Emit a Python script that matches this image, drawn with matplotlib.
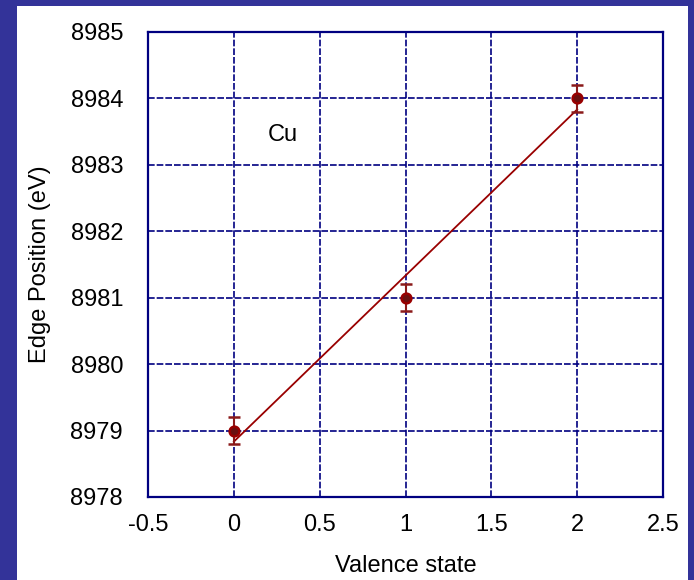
import numpy as np
import matplotlib.pyplot as plt
from matplotlib.patches import Rectangle

plt.rcParams["font.family"] = ["Liberation Sans", "DejaVu Sans"]

# data
valence = [0, 1, 2]
edge = [8979.0, 8981.0, 8984.0]
edge_err = [0.2, 0.2, 0.2]

xticks = [-0.5, 0, 0.5, 1, 1.5, 2, 2.5]
xticklabels = ["-0.5", "0", "0.5", "1", "1.5", "2", "2.5"]
yticks = [8978, 8979, 8980, 8981, 8982, 8983, 8984, 8985]

# linear fit through the points
slope, intercept = np.polyfit(valence, edge, 1)
fit_x = np.array([valence[0], valence[-1]])
fit_y = slope * fit_x + intercept

fig = plt.figure(figsize=(6.94, 5.80), dpi=100, facecolor="#333399")
# white panel inside the blue frame
panel = Rectangle((17 / 694, 0), (688 - 17) / 694, (580 - 6) / 580,
                  transform=fig.transFigure, facecolor="white",
                  edgecolor="none", zorder=-10)
fig.add_artist(panel)

ax = fig.add_axes([148 / 694, 83 / 580, (663 - 148) / 694, (497 - 32) / 580])
ax.set_facecolor("white")

ax.plot(fit_x, fit_y, color="#990000", lw=1.3, zorder=3)
ax.errorbar(valence, edge, yerr=edge_err, fmt="o", color="#8B1A1A",
            ms=7, mfc="#6a1010", mec="#990000", mew=1.8,
            elinewidth=1.5, capsize=4, capthick=1.5, zorder=4)

ax.set_xlim(-0.5, 2.5)
ax.set_ylim(8978, 8985)
ax.set_xticks(xticks)
ax.set_xticklabels(xticklabels)
ax.set_yticks(yticks)
ax.tick_params(length=0, labelsize=17, colors="black")
ax.tick_params(axis="y", pad=18)
ax.tick_params(axis="x", pad=12)

ax.grid(True, color="#000080", lw=1.2, linestyle=(0, (4, 1.2)))
ax.set_axisbelow(True)
for s in ax.spines.values():
    s.set_color("#000080")
    s.set_linewidth(1.6)

ax.set_xlabel("Valence state", fontsize=17, labelpad=14)
ax.set_ylabel("Edge Position (eV)", fontsize=17, labelpad=14)

ax.text(0.2, 8983.45, "Cu", fontsize=17, ha="left", va="center")

fig.savefig("out.png", dpi=100, facecolor=fig.get_facecolor())
